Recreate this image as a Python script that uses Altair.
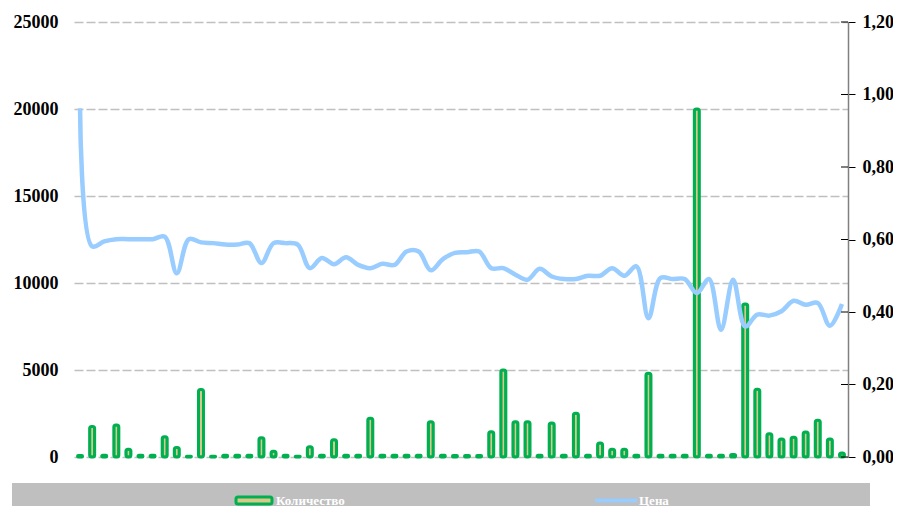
import altair as alt
import pandas as pd

counts = [80, 1750, 100, 1840, 450, 100, 100, 1160, 550, 50,
          3880, 50, 100, 100, 100, 1100, 330, 100, 50, 590,
          100, 990, 100, 100, 2220, 100, 100, 100, 100, 2030,
          100, 80, 80, 80, 1450, 5000, 2030, 2030, 100, 1960,
          100, 2510, 100, 800, 440, 440, 100, 4810, 100, 100,
          100, 20000, 100, 100, 150, 8800, 3900, 1330, 1030, 1140,
          1440, 2110, 1030, 230]

prices = [0.962, 0.581, 0.595, 0.601, 0.601, 0.601, 0.601, 0.608, 0.507, 0.601,
          0.592, 0.590, 0.586, 0.586, 0.590, 0.535, 0.590, 0.590, 0.586, 0.521,
          0.549, 0.532, 0.551, 0.530, 0.521, 0.533, 0.530, 0.567, 0.567, 0.515,
          0.546, 0.563, 0.565, 0.567, 0.521, 0.521, 0.503, 0.489, 0.519, 0.498,
          0.491, 0.491, 0.500, 0.500, 0.521, 0.500, 0.526, 0.383, 0.494, 0.491,
          0.491, 0.452, 0.491, 0.351, 0.489, 0.360, 0.393, 0.390, 0.402, 0.431,
          0.420, 0.425, 0.362, 0.422]

left_ticks = [0, 5000, 10000, 15000, 20000, 25000]
right_ticks = [0, 0.2, 0.4, 0.6, 0.8, 1.0, 1.2]
legend_labels = ["Количество", "Цена"]

df = pd.DataFrame({"idx": list(range(1, len(counts) + 1)), "qty": counts, "price": prices})
ticks_df = pd.DataFrame({"v": right_ticks})

FONT = "Liberation Serif"
GREEN = "#00B050"
TAN = "#D8C88C"
BLUE = "#99CCFF"

x_enc = alt.X("idx:O", axis=None, scale=alt.Scale(paddingInner=0, paddingOuter=0))

bars = alt.Chart(df).mark_bar(size=5, fill=TAN, stroke=GREEN, strokeWidth=3, cornerRadius=2).encode(
    x=x_enc,
    y=alt.Y("qty:Q", scale=alt.Scale(domain=[0, 25000], nice=False),
            axis=alt.Axis(values=left_ticks, title=None, domain=False, ticks=False, format="d",
                          labelFont=FONT, labelFontWeight="bold", labelFontSize=18,
                          labelColor="black", labelPadding=16,
                          grid=True, gridColor="#C0C0C0", gridDash=[9, 3], gridWidth=1.5)),
)

line = alt.Chart(df).mark_line(color=BLUE, strokeWidth=4.5, interpolate="catmull-rom").encode(
    x=x_enc,
    y=alt.Y("price:Q", scale=alt.Scale(domain=[0, 1.2], nice=False),
            axis=alt.Axis(orient="right", values=right_ticks, title=None, grid=False,
                          domain=True, domainColor="#808080", domainWidth=1.5,
                          ticks=True, tickColor="black", tickSize=7, tickWidth=1,
                          labelFont=FONT, labelFontWeight="bold", labelFontSize=18,
                          labelColor="black", labelPadding=7,
                          labelExpr="replace(format(datum.value, '.2f'), '.', ',')")),
)

inner_ticks = alt.Chart(ticks_df).mark_rule(color="black", strokeWidth=1).encode(
    x=alt.value(767), x2=alt.value(774),
    y=alt.Y("v:Q", scale=alt.Scale(domain=[0, 1.2], nice=False), axis=None),
)

dummy = alt.Data(values=[{"a": 0}])

band = alt.Chart(dummy).mark_rect(color="#BFBFBF").encode(
    x=alt.value(-62), x2=alt.value(796), y=alt.value(461), y2=alt.value(500)
)
sym1 = alt.Chart(dummy).mark_rect(fill=TAN, stroke=GREEN, strokeWidth=3, cornerRadius=2).encode(
    x=alt.value(162), x2=alt.value(198), y=alt.value(475), y2=alt.value(482)
)
txt1 = alt.Chart(dummy).mark_text(align="left", baseline="middle", font=FONT, fontWeight="bold",
                                  fontSize=13, color="white", text=legend_labels[0]).encode(
    x=alt.value(202), y=alt.value(478.5)
)
sym2 = alt.Chart(dummy).mark_rule(color=BLUE, strokeWidth=4).encode(
    x=alt.value(521), x2=alt.value(563), y=alt.value(478.5)
)
txt2 = alt.Chart(dummy).mark_text(align="left", baseline="middle", font=FONT, fontWeight="bold",
                                  fontSize=13, color="white", text=legend_labels[1]).encode(
    x=alt.value(565), y=alt.value(478.5)
)

chart = alt.layer(band, sym1, txt1, sym2, txt2, bars, line, inner_ticks).resolve_scale(y="independent").properties(
    width=774, height=435,
    autosize=alt.AutoSizeParams(type="none"),
    padding={"left": 66, "top": 14, "right": 45, "bottom": 49},
).configure_view(stroke=None)

chart.save("out.html", embed_options={"renderer": "svg", "actions": False})
